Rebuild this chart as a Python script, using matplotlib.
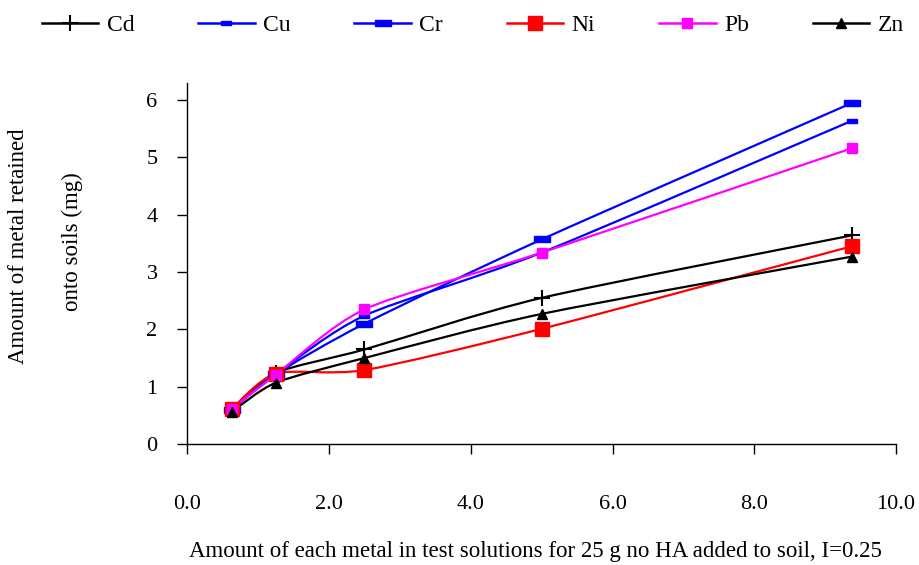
import numpy as np
import matplotlib
matplotlib.use("Agg")
import matplotlib.pyplot as plt
from matplotlib.path import Path
from matplotlib.patches import PathPatch
from matplotlib.lines import Line2D

plt.rcParams['font.family'] = ['Liberation Serif', 'DejaVu Serif']

# metal added (x) and metal retained (y)
x_added = [0.625, 1.25, 2.5, 5.0, 9.375]
cd = [0.60, 1.24, 1.65, 2.55, 3.64]
cu = [0.60, 1.22, 2.24, 3.34, 5.64]
cr = [0.60, 1.22, 2.10, 3.57, 5.95]
ni = [0.61, 1.23, 1.29, 2.01, 3.45]
pb = [0.61, 1.21, 2.35, 3.34, 5.16]
zn = [0.56, 1.07, 1.50, 2.27, 3.27]
names = ["Cd", "Cu", "Cr", "Ni", "Pb", "Zn"]
xticks = [0, 2, 4, 6, 8, 10]
yticks = [0, 1, 2, 3, 4, 5, 6]

# rectangle markers (wide dash) for Cu / Cr
dash = [(-1, -0.35), (1, -0.35), (1, 0.35), (-1, 0.35), (-1, -0.35)]

styles = {
    "Cd": dict(color="black", marker="+", ms=11, mew=1.5),
    "Cu": dict(color="#0000ff", marker=dash, ms=7),
    "Cr": dict(color="#0000ff", marker=dash, ms=12),
    "Ni": dict(color="#ff0000", marker="s", ms=10),
    "Pb": dict(color="#ff00ff", marker="s", ms=7.5),
    "Zn": dict(color="black", marker="^", ms=7.5),
}


def smooth_path(xs, ys, k=8.0):
    # Excel-like smoothed line: cubic Bezier segments through the points
    pts = np.column_stack([xs, ys])
    n = len(pts)
    verts = [pts[0]]
    codes = [Path.MOVETO]
    for i in range(n - 1):
        p0 = pts[max(i - 1, 0)]
        p1 = pts[i]
        p2 = pts[i + 1]
        p3 = pts[min(i + 2, n - 1)]
        c1 = p1 + (p2 - p0) / k
        c2 = p2 - (p3 - p1) / k
        verts += [c1, c2, p2]
        codes += [Path.CURVE4] * 3
    return Path(verts, codes)


fig = plt.figure(figsize=(9.2, 5.65), dpi=100)
ax = fig.add_axes([187.3 / 920, 121 / 565, 708.7 / 920, 361 / 565])

series = [cd, cu, cr, ni, pb, zn]
handles = []
for name, ys in zip(names, series):
    st = styles[name]
    ax.add_patch(PathPatch(smooth_path(x_added, ys), fill=False,
                           edgecolor=st["color"], lw=1.6, zorder=2))
    ax.plot(x_added, ys, linestyle="none", marker=st["marker"],
            ms=st["ms"], mew=st.get("mew", 1), color=st["color"],
            mec=st["color"], zorder=3)
    handles.append(Line2D([], [], color=st["color"], lw=1.8,
                          marker=st["marker"], ms=st["ms"],
                          mew=st.get("mew", 1), mec=st["color"]))

ax.set_xlim(0, 10)
ax.set_ylim(0, 6.3)
ax.set_xticks(xticks)
ax.set_xticklabels([f"{v:.1f}" for v in xticks])
ax.set_yticks(yticks)
ax.spines["top"].set_visible(False)
ax.spines["right"].set_visible(False)
for s in ["left", "bottom"]:
    ax.spines[s].set_linewidth(1.0)
ax.tick_params(axis="x", direction="out", length=7.5, width=1, pad=29,
               labelsize=16)
ax.tick_params(axis="y", direction="out", length=7.5, width=1, pad=14,
               labelsize=16)

fig.text(535 / 920, 1 - 552 / 565,
         "Amount of each metal in test solutions for 25 g no HA added to soil, I=0.25",
         ha="center", va="center", fontsize=16.5)
fig.text(19 / 920, 1 - 246 / 565, "Amount of metal retained",
         rotation=90, ha="center", va="center", fontsize=16.5)
fig.text(72 / 920, 1 - 242 / 565, "onto soils (mg)",
         rotation=90, ha="center", va="center", fontsize=16.5)

fig.legend(handles, names, ncol=6, loc="center left",
           bbox_to_anchor=(30 / 920, 1 - 25 / 565), frameon=False,
           fontsize=17, handlelength=2.4, handletextpad=0.35,
           columnspacing=2.7, borderpad=0)

fig.savefig("out.png", dpi=100)
